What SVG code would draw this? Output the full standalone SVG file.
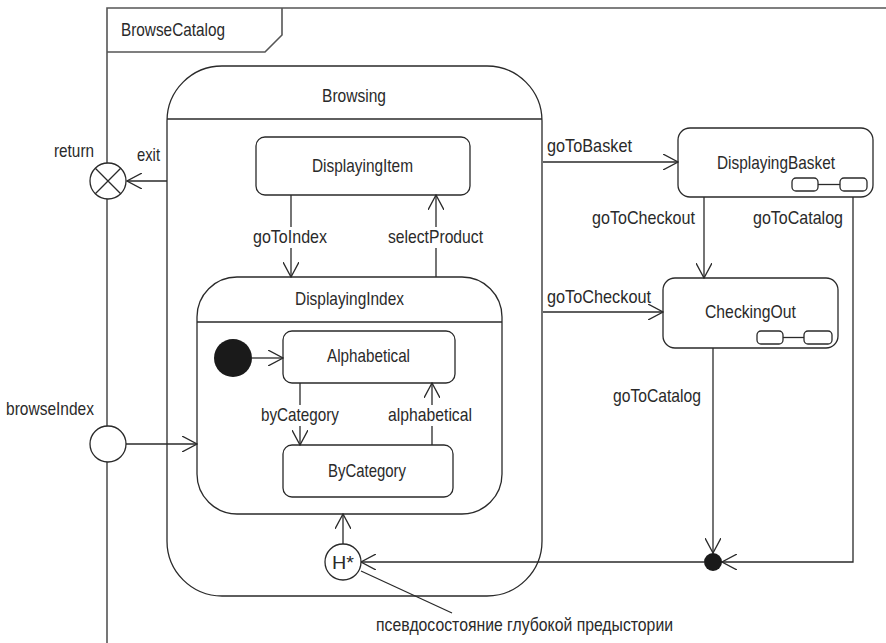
<svg xmlns="http://www.w3.org/2000/svg" width="886" height="643" viewBox="0 0 886 643">
<style>
.s{fill:#fff;stroke:#2a2a2a;stroke-width:1.3}
.l{fill:none;stroke:#2a2a2a;stroke-width:1.3}
.f{fill:none;stroke:#555;stroke-width:1.6}
text{font-family:"Liberation Sans",Arial,sans-serif;font-size:19px;fill:#2a2a2a}
.m{text-anchor:middle}
</style>
<defs>
<marker id="a" viewBox="0 0 16 16" refX="15" refY="8" markerWidth="16" markerHeight="16" markerUnits="userSpaceOnUse" orient="auto">
<path d="M0,0 L15,8 L0,16" fill="none" stroke="#2a2a2a" stroke-width="1.3"/>
</marker>
</defs>
<rect width="886" height="643" fill="#fff"/>
<g id="frame">
<path class="f" d="M107,643 L107,8 L886,8"/>
<path class="f" d="M107,52 L265,52 L282,35 L282,8"/>
<text x="121" y="36" textLength="104" lengthAdjust="spacingAndGlyphs">BrowseCatalog</text>
</g>
<g id="Browsing">
<rect class="s" x="167" y="66" width="375" height="530" rx="55"/>
<line class="l" x1="167" y1="119" x2="542" y2="119"/>
<text x="322" y="102" textLength="64" lengthAdjust="spacingAndGlyphs">Browsing</text>
</g>
<g id="DisplayingItem">
<rect class="s" x="256" y="137" width="214" height="58" rx="9"/>
<text x="312" y="172" textLength="101" lengthAdjust="spacingAndGlyphs">DisplayingItem</text>
</g>
<g id="DisplayingIndex">
<rect class="s" x="197" y="277" width="305" height="237" rx="40"/>
<line class="l" x1="197" y1="322" x2="502" y2="322"/>
<text x="295" y="305" textLength="109" lengthAdjust="spacingAndGlyphs">DisplayingIndex</text>
</g>
<g id="Initial">
<circle cx="233" cy="358" r="19" fill="#1a1a1a"/>
</g>
<g id="Alphabetical">
<rect class="s" x="283" y="331" width="172" height="52" rx="9"/>
<text x="327" y="362" textLength="83" lengthAdjust="spacingAndGlyphs">Alphabetical</text>
</g>
<g id="ByCategory">
<rect class="s" x="283" y="445" width="170" height="52" rx="9"/>
<text x="328" y="477" textLength="78" lengthAdjust="spacingAndGlyphs">ByCategory</text>
</g>
<g id="DisplayingBasket">
<rect class="s" x="678" y="128" width="195" height="69" rx="12"/>
<text x="717" y="169" textLength="118" lengthAdjust="spacingAndGlyphs">DisplayingBasket</text>
<rect class="s" x="792" y="178" width="26" height="13" rx="4"/>
<rect class="s" x="840" y="178" width="27" height="13" rx="4"/>
<line class="l" x1="818" y1="184.5" x2="840" y2="184.5"/>
</g>
<g id="CheckingOut">
<rect class="s" x="663" y="278" width="175" height="70" rx="12"/>
<text x="705" y="318" textLength="91" lengthAdjust="spacingAndGlyphs">CheckingOut</text>
<rect class="s" x="757" y="331" width="26" height="13" rx="4"/>
<rect class="s" x="804" y="331" width="28" height="13" rx="4"/>
<line class="l" x1="783" y1="337.5" x2="804" y2="337.5"/>
</g>
<g id="connectors">
<path class="l" d="M543,162 L678,162" marker-end="url(#a)"/>
<path class="l" d="M543,312 L663,312" marker-end="url(#a)"/>
<path class="l" d="M704,197 L704,278" marker-end="url(#a)"/>
<path class="l" d="M853,197 L853,562 L722,562" marker-end="url(#a)"/>
<path class="l" d="M713,348 L713,553" marker-end="url(#a)"/>
<path class="l" d="M704,562 L361,562" marker-end="url(#a)"/>
<path class="l" d="M343,544 L343,514" marker-end="url(#a)"/>
<path class="l" d="M167,181 L127,181" marker-end="url(#a)"/>
<path class="l" d="M126,444 L197,444" marker-end="url(#a)"/>
<path class="l" d="M291,195 L291,277" marker-end="url(#a)"/>
<path class="l" d="M436,277 L436,195" marker-end="url(#a)"/>
<path class="l" d="M252,358 L283,358" marker-end="url(#a)"/>
<path class="l" d="M300,383 L300,445" marker-end="url(#a)"/>
<path class="l" d="M432,445 L432,383" marker-end="url(#a)"/>
<path class="l" d="M361,571 L452,613"/>
</g>
<g id="labels">
<rect x="250" y="227" width="84" height="21" fill="#fff"/>
<rect x="385" y="227" width="100" height="21" fill="#fff"/>
<rect x="258" y="405" width="84" height="21" fill="#fff"/>
<rect x="386" y="405" width="88" height="21" fill="#fff"/>
<text x="253" y="243" textLength="74" lengthAdjust="spacingAndGlyphs">goToIndex</text>
<text x="388" y="243" textLength="95" lengthAdjust="spacingAndGlyphs">selectProduct</text>
<text x="261" y="421" textLength="78" lengthAdjust="spacingAndGlyphs">byCategory</text>
<text x="388" y="421" textLength="84" lengthAdjust="spacingAndGlyphs">alphabetical</text>
<text x="547" y="152" textLength="85" lengthAdjust="spacingAndGlyphs">goToBasket</text>
<text x="592" y="224" textLength="103" lengthAdjust="spacingAndGlyphs">goToCheckout</text>
<text x="753" y="224" textLength="90" lengthAdjust="spacingAndGlyphs">goToCatalog</text>
<text x="547" y="303" textLength="104" lengthAdjust="spacingAndGlyphs">goToCheckout</text>
<text x="613" y="402" textLength="88" lengthAdjust="spacingAndGlyphs">goToCatalog</text>
<text x="137" y="161" textLength="23" lengthAdjust="spacingAndGlyphs">exit</text>
<text x="54" y="157" textLength="40" lengthAdjust="spacingAndGlyphs">return</text>
<text x="6" y="415" textLength="88" lengthAdjust="spacingAndGlyphs">browseIndex</text>
<text x="376" y="631" textLength="297" lengthAdjust="spacingAndGlyphs">псевдосостояние глубокой предыстории</text>
</g>
<g id="ExitPoint">
<circle class="s" cx="108" cy="181" r="18"/>
<path class="l" d="M95.3,168.3 L120.7,193.7 M120.7,168.3 L95.3,193.7"/>
</g>
<g id="EntryPoint">
<circle class="s" cx="108" cy="444" r="18"/>
</g>
<g id="DeepHistory">
<circle class="s" cx="343" cy="562" r="18"/>
<text class="m" x="343" y="569" font-size="18" textLength="22" lengthAdjust="spacingAndGlyphs">H*</text>
</g>
<g id="Junction">
<circle cx="713" cy="562" r="9" fill="#1a1a1a"/>
</g>
</svg>
